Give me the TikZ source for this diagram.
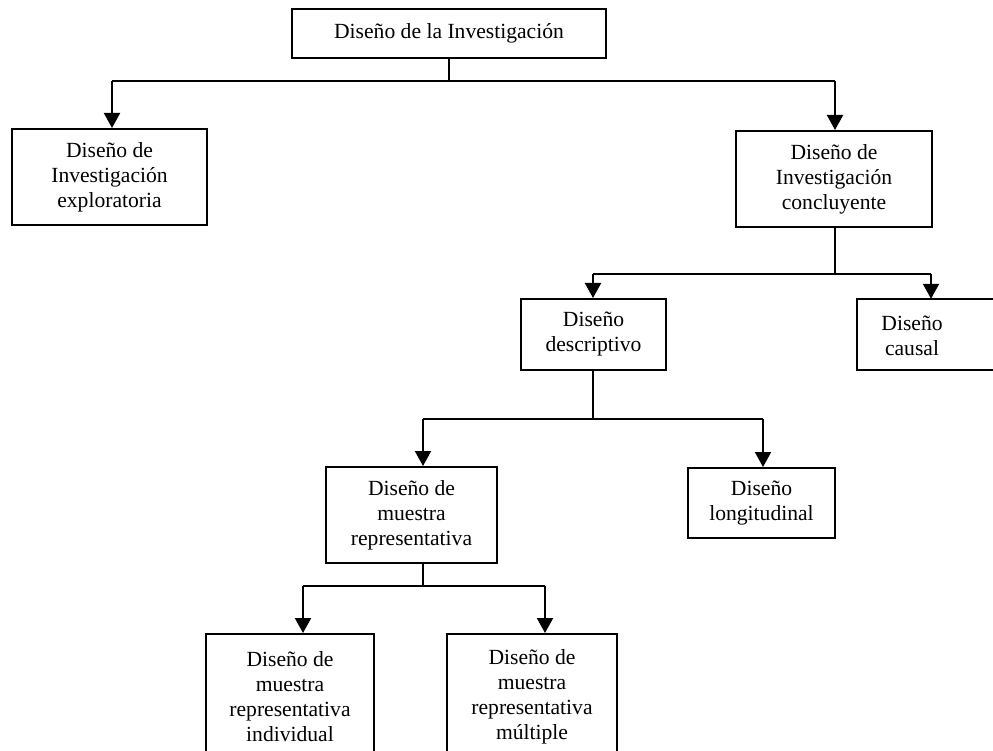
\documentclass[tikz,border=0pt]{standalone}
\usepackage{fontspec}
\setmainfont{Liberation Serif}
\usetikzlibrary{arrows.meta}
\tikzset{
  box/.style={draw=black, line width=2pt, fill=white, align=center, inner sep=0pt,
    font=\fontsize{21.6}{25}\selectfont},
  openbox/.style={draw=none, inner sep=0pt},
  txt/.style={align=center, inner sep=0pt, font=\fontsize{21.6}{25}\selectfont},
  conn/.style={line width=2pt},
  arr/.style={line width=2pt, -{Triangle[width=16pt,length=15pt]}}
}
\begin{document}
\begin{tikzpicture}[x=1pt,y=1pt]
\useasboundingbox (0,0) rectangle (993,-751);
\clip (0,0) rectangle (993,-751);
% nodes
\node[box, minimum width=314, minimum height=49] (top) at (449,-33.5) {Diseño de la Investigación};
\node[box, minimum width=195, minimum height=96] (explo) at (109.5,-177) {Diseño de\\Investigación\\exploratoria};
\node[box, minimum width=196, minimum height=96] (conc) at (834,-179) {Diseño de\\Investigación\\concluyente};
\node[box, minimum width=145, minimum height=71] (desc) at (593.5,-334.5) {Diseño\\descriptivo};
\node[openbox, minimum width=200, minimum height=71, anchor=west] (causal) at (857,-334.5) {};
\draw[conn, line cap=rect] (causal.north east) -- (causal.north west) -- (causal.south west) -- (causal.south east);
\node[txt] (causalt) at (912,-336) {Diseño\\causal};
\node[box, minimum width=171, minimum height=96] (repr) at (411.5,-515) {Diseño de\\muestra\\representativa};
\node[box, minimum width=147, minimum height=70] (long) at (761.5,-503) {Diseño\\longitudinal};
\node[box, minimum width=168, minimum height=126] (indiv) at (290,-697) {Diseño de\\muestra\\representativa\\individual};
\node[box, minimum width=170, minimum height=126] (mult) at (532,-697) {Diseño de\\muestra\\representativa\\múltiple};
% junction coordinates
\coordinate (j1) at (449,-81);
\coordinate (a1) at (112,-81);
\coordinate (b1) at (835,-81);
\coordinate (j2) at (835,-274);
\coordinate (a2) at (593,-274);
\coordinate (b2) at (931,-274);
\coordinate (j3) at (593,-419);
\coordinate (a3) at (423,-419);
\coordinate (b3) at (763,-419);
\coordinate (j4) at (423,-586);
\coordinate (a4) at (303,-586);
\coordinate (b4) at (545,-586);
% connectors
\draw[conn] (top.south -| j1) -- (j1);
\draw[conn] (a1) -- (b1);
\draw[arr] (a1) -- (a1 |- explo.north);
\draw[arr] (b1) -- (b1 |- conc.north);
\draw[conn] (conc.south -| j2) -- (j2);
\draw[conn] (a2) -- (b2);
\draw[arr] (a2) -- (a2 |- desc.north);
\draw[arr] (b2) -- (b2 |- causal.north);
\draw[conn] (desc.south -| j3) -- (j3);
\draw[conn] (a3) -- (b3);
\draw[arr] (a3) -- (a3 |- repr.north);
\draw[arr] (b3) -- (b3 |- long.north);
\draw[conn] (repr.south -| j4) -- (j4);
\draw[conn] (a4) -- (b4);
\draw[arr] (a4) -- (a4 |- indiv.north);
\draw[arr] (b4) -- (b4 |- mult.north);
\end{tikzpicture}
\end{document}
